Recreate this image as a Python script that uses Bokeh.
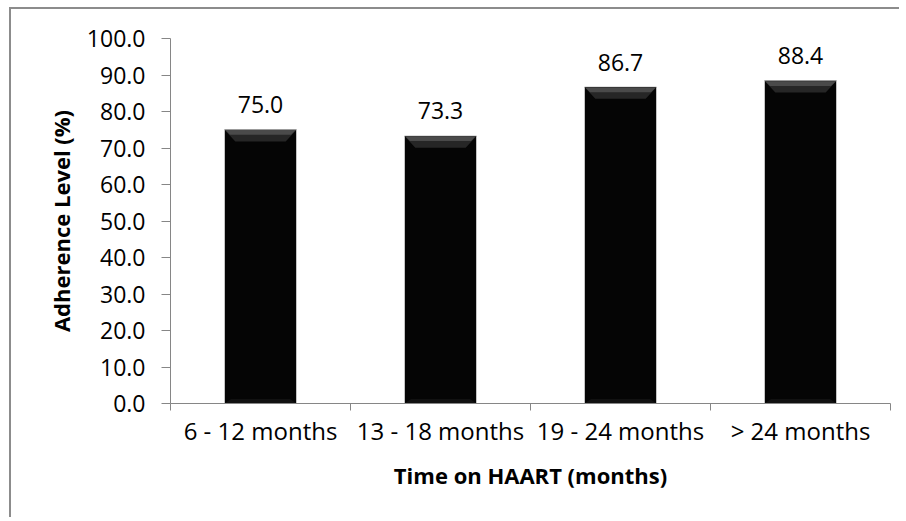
from bokeh.plotting import figure
from bokeh.models import Range1d, FixedTicker, ColumnDataSource, PrintfTickFormatter
from bokeh.embed import file_html
from bokeh.resources import INLINE
from bokeh.core.properties import value

categories = ["6 - 12 months", "13 - 18 months", "19 - 24 months", "> 24 months"]
adherence = [75.0, 73.3, 86.7, 88.4]
y_ticks = [0, 10, 20, 30, 40, 50, 60, 70, 80, 90, 100]

FONT = "Open Sans"
AXIS_GRAY = "#868686"

xs = [i + 0.5 for i in range(len(categories))]
bounds = [float(i) for i in range(len(categories) + 1)]
labels = [f"{v:.1f}" for v in adherence]

p = figure(width=890, height=510, x_range=Range1d(0, len(categories)), y_range=Range1d(0, 100),
           output_backend="svg", toolbar_location=None,
           min_border_left=159, min_border_right=11, min_border_top=29, min_border_bottom=116)
p.styles = {"border-left": "2px solid #8c8c8c", "border-top": "2px solid #8c8c8c",
            "margin-left": "9px", "margin-top": "7px"}
p.outline_line_color = None
p.xgrid.visible = False
p.ygrid.visible = False
p.background_fill_color = "white"
p.border_fill_color = "white"

bw = 0.4
src = ColumnDataSource(dict(x=xs, top=adherence, label=labels))
p.vbar(x="x", top="top", bottom=0, width=bw, source=src, fill_color="#050505",
       line_color="#c4c4c4", line_width=1)

# bevel highlights (computed from values)
inset = 0.06
bh = 3.2
top_x, top_y, mid_x, mid_y, bot_x, bot_y = [], [], [], [], [], []
for xc, v in zip(xs, adherence):
    x0, x1 = xc - bw / 2, xc + bw / 2
    top_x.append([x0, x1, x1 - inset, x0 + inset])
    top_y.append([v, v, v - bh, v - bh])
    mid_x.append([x0 + 0.004, x1 - 0.004, x1 - 0.03, x0 + 0.03])
    mid_y.append([v - 0.1, v - 0.1, v - 1.4, v - 1.4])
    bot_x.append([x0, x1, x1 - inset * 0.6, x0 + inset * 0.6])
    bot_y.append([0, 0, 1.2, 1.2])
p.patches(top_x, top_y, fill_color="#262626", line_color=None)
p.patches(mid_x, mid_y, fill_color="#4a4a4a", line_color=None)
p.patches(bot_x, bot_y, fill_color="#111111", line_color=None)

p.text(x="x", y="top", text="label", source=src, y_offset=-25, text_align="center",
       text_baseline="alphabetic", text_font=value(FONT), text_font_size="23px", text_color="black")

# y axis
ya = p.yaxis[0]
ya.ticker = FixedTicker(ticks=y_ticks)
ya.formatter = PrintfTickFormatter(format="%.1f")
ya.axis_line_color = AXIS_GRAY
ya.major_tick_line_color = AXIS_GRAY
ya.major_tick_out = 9
ya.major_tick_in = 0
ya.minor_tick_line_color = None
ya.major_label_standoff = 16
ya.major_label_text_font = FONT
ya.major_label_text_font_size = "23px"
ya.major_label_text_color = "black"
ya.axis_label = "Adherence Level (%)"
ya.axis_label_text_font = FONT
ya.axis_label_text_font_size = "22px"
ya.axis_label_text_font_style = "bold"
ya.axis_label_text_color = "black"
ya.axis_label_standoff = 8

# x axis
xa = p.xaxis[0]
xa.ticker = FixedTicker(ticks=xs, minor_ticks=bounds)
xa.major_label_overrides = {x: c for x, c in zip(xs, categories)}
xa.axis_line_color = AXIS_GRAY
xa.major_tick_line_color = None
xa.major_tick_out = 0
xa.major_tick_in = 0
xa.minor_tick_line_color = AXIS_GRAY
xa.minor_tick_out = 7
xa.minor_tick_in = 0
xa.major_label_standoff = 3
xa.major_label_text_font = FONT
xa.major_label_text_font_size = "24px"
xa.major_label_text_color = "black"
xa.axis_label = "Time on HAART (months)"
xa.axis_label_text_font = FONT
xa.axis_label_text_font_size = "22px"
xa.axis_label_text_font_style = "bold"
xa.axis_label_text_color = "black"
xa.axis_label_standoff = 10

open("out.html", "w").write(file_html(p, INLINE))
